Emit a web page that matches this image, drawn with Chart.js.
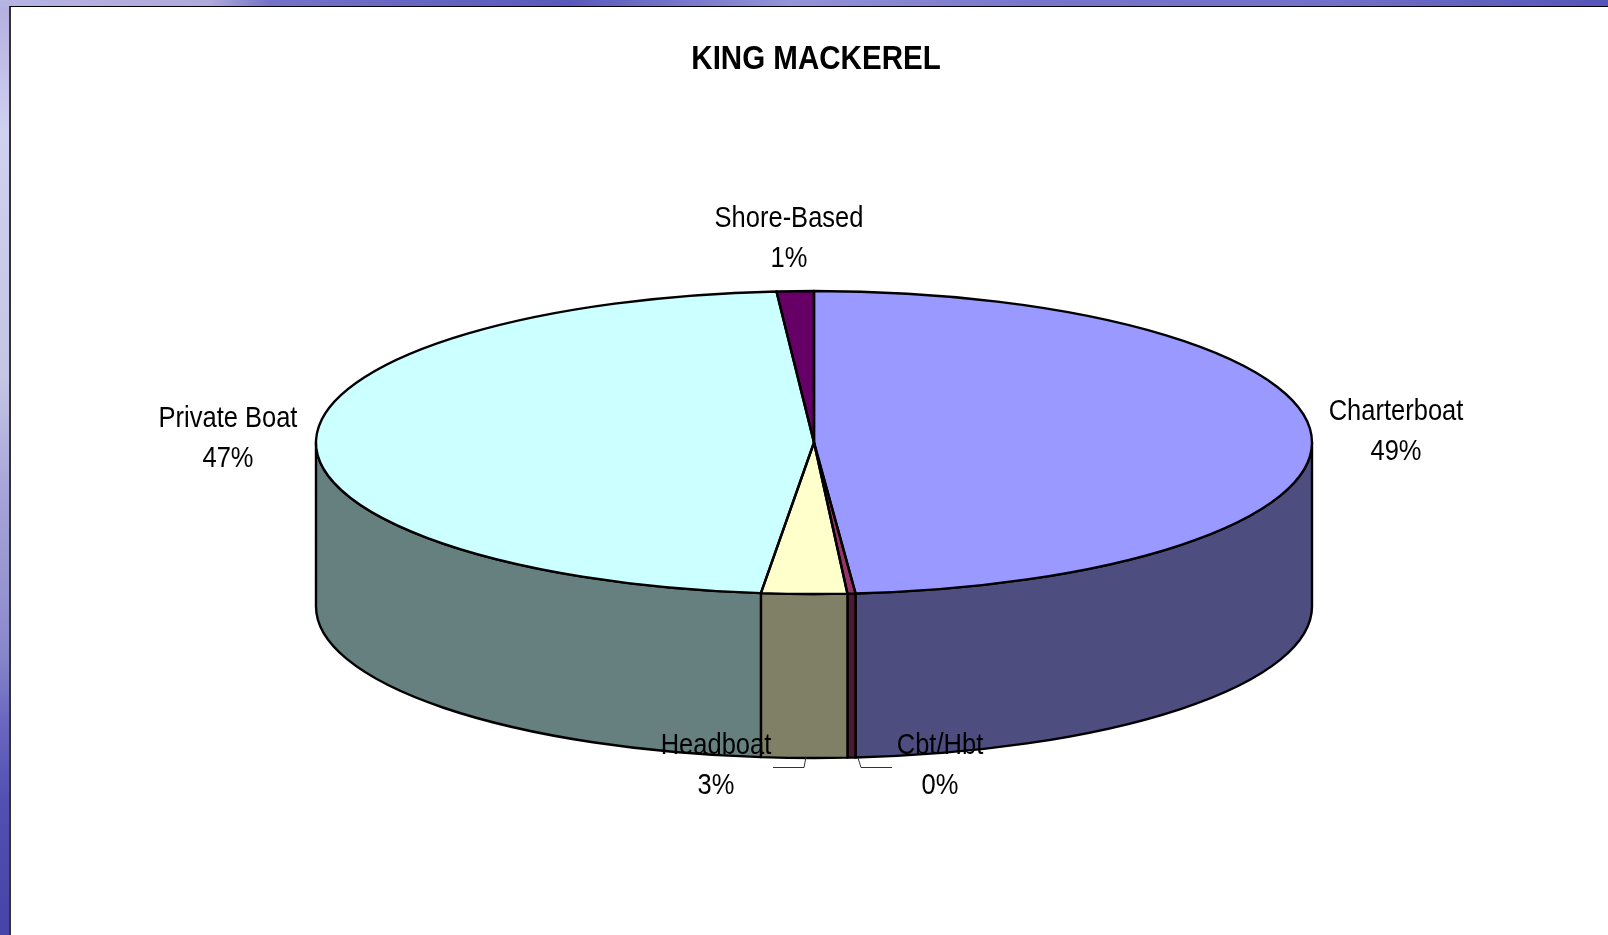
<!DOCTYPE html>
<html>
<head>
<meta charset="utf-8">
<title>KING MACKEREL</title>
<script src="https://cdn.jsdelivr.net/npm/chart.js@4"></script>
<style>
html,body{margin:0;padding:0;width:1608px;height:935px;overflow:hidden;}
body{
  background:
    linear-gradient(90deg,#b6b4e2 0,#aeaadc 210px,#7472c8 270px,#5a58bc 570px,#9494da 790px,#7876ca 1030px,#7270c8 1330px,#5654b8 1608px) top left/100% 7px no-repeat,
    linear-gradient(180deg,#b2aedf 0,#d0d0f0 130px,#c4c4e4 380px,#a4a2d8 500px,#9a98d2 570px,#8a88cc 650px,#6a68c0 720px,#5250b2 800px,#4644a8 935px);
}
#panel{position:absolute;left:9px;top:6px;right:0;bottom:0;background:#fff;border-left:2px solid #333;border-top:1px solid #000;}
canvas{position:absolute;left:0;top:0;}
</style>
</head>
<body>
<div id="panel"></div>
<canvas id="myChart" width="1608" height="935"></canvas>
<script>
const chartTitle='KING MACKEREL';
const categories=['Charterboat','Cbt/Hbt','Headboat','Private Boat','Shore-Based'];
const shares=[48.67,0.26,2.77,47.1,1.2];
const topColors=['#9999ff','#993366','#ffffcc','#ccffff','#660066'];
const wallColors=['#4d4d80','#4d1a33','#808066','#668080','#330033'];

// where the pie sits on the page, it is a flattened circle with a wall under it
const pieX=814, pieY=442.5, pieR=498, pieRy=151.5, pieDepth=164;
const textSqueeze=0.85;

// label anchors, same order as categories
const labelX=[1396,940,716,228,789];
const labelY=[420,754,754,427,227];

function squeezedText(ctx,text,x,y,font,squeeze){
    ctx.save();
    ctx.translate(x,y);
    ctx.scale(squeeze,1);
    ctx.font=font;
    ctx.fillStyle='#000';
    ctx.textAlign='center';
    ctx.textBaseline='alphabetic';
    ctx.fillText(text,0,0);
    ctx.restore();
}

function leader(ctx,pts){
    ctx.beginPath();
    ctx.moveTo(pts[0][0],pts[0][1]);
    for(let i=1;i<pts.length;i++){
        ctx.lineTo(pts[i][0],pts[i][1]);
    }
    ctx.strokeStyle='#333';
    ctx.lineWidth=1;
    ctx.stroke();
}

const pie3d={
    id:'pie3d',
    beforeDatasetsDraw(chart){
        const ctx=chart.ctx;
        const arcs=chart.getDatasetMeta(0).data;

        // walls, only the front half of the pie shows them
        arcs.forEach(function(arc,i){
            let a0=Math.max(arc.startAngle,0);
            let a1=Math.min(arc.endAngle,Math.PI);
            if(a1<=a0) return;
            ctx.beginPath();
            ctx.ellipse(pieX,pieY,pieR,pieRy,0,a0,a1);
            ctx.ellipse(pieX,pieY+pieDepth,pieR,pieRy,0,a1,a0,true);
            ctx.closePath();
            ctx.fillStyle=wallColors[i];
            ctx.fill();
            ctx.strokeStyle='#000';
            ctx.lineWidth=2.4;
            ctx.lineJoin='round';
            ctx.stroke();
        });

        // the library draws the top face, squashed into an ellipse
        const first=arcs[0];
        ctx.save();
        ctx.translate(pieX,pieY);
        ctx.scale(1,pieRy/pieR);
        ctx.translate(-first.x,-first.y);
    },
    afterDatasetsDraw(chart){
        const ctx=chart.ctx;
        ctx.restore();
        const arcs=chart.getDatasetMeta(0).data;

        arcs.forEach(function(arc){
            ctx.beginPath();
            ctx.moveTo(pieX,pieY);
            ctx.ellipse(pieX,pieY,pieR,pieRy,0,arc.startAngle,arc.endAngle);
            ctx.closePath();
            ctx.strokeStyle='#000';
            ctx.lineWidth=2.4;
            ctx.lineJoin='round';
            ctx.stroke();
        });

        leader(ctx,[[773,767.5],[804,767.5],[806,757]]);
        leader(ctx,[[892,767.5],[861,767.5],[858,758]]);

        squeezedText(ctx,chartTitle,816,69,'bold 33px "Liberation Sans"',0.895);
        categories.forEach(function(name,i){
            const font='30px "Liberation Sans"';
            squeezedText(ctx,name,labelX[i],labelY[i],font,textSqueeze);
            squeezedText(ctx,Math.round(shares[i])+'%',labelX[i],labelY[i]+40,font,textSqueeze);
        });
    }
};

const ctx=document.getElementById('myChart').getContext('2d');
const myChart=new Chart(ctx,{
    type:'pie',
    data:{
        labels:categories,
        datasets:[{
            data:shares,
            backgroundColor:topColors,
            borderWidth:0,
            clip:false,
            radius:pieR
        }]
    },
    options:{
        responsive:false,
        animation:false,
        events:[],
        plugins:{
            legend:{display:false},
            title:{display:false},
            tooltip:{enabled:false}
        }
    },
    plugins:[pie3d]
});
</script>
</body>
</html>
